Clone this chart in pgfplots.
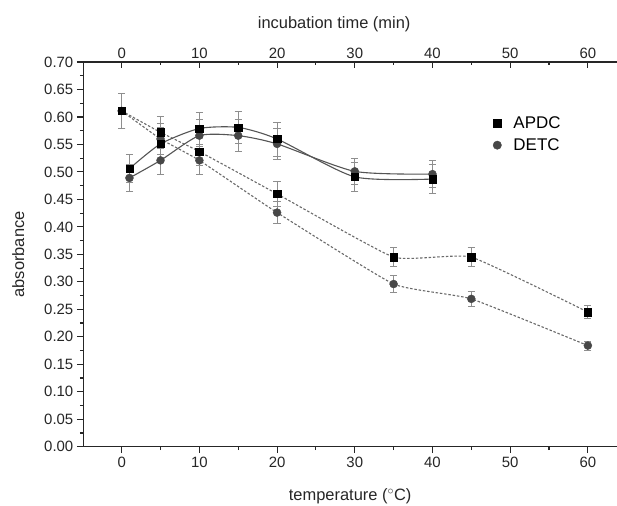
\documentclass[border=0pt]{standalone}
\usepackage{fontspec}
\setmainfont{Liberation Sans}
\usepackage{pgfplots}
\usepackage{pgfplotstable}
\pgfplotsset{compat=1.18}

\definecolor{circgray}{HTML}{474747}
\definecolor{errgray}{HTML}{8E8E8E}
\definecolor{solidgray}{HTML}{555555}
\definecolor{dashgray}{HTML}{6A6A6A}

% temperature series (dashed)
\pgfplotstableread{
x y e
0 0.611 0.031
5 0.572 0.029
10 0.537 0.025
20 0.460 0.023
35 0.345 0.017
45 0.345 0.017
60 0.245 0.012
}\apdctemp
\pgfplotstableread{
x y e
0 0.611 0.031
5 0.560 0.028
10 0.521 0.026
20 0.426 0.020
35 0.296 0.015
45 0.269 0.013
60 0.184 0.008
}\detctemp
% incubation time series (solid)
\pgfplotstableread{
x y e
1 0.506 0.025
5 0.551 0.030
10 0.579 0.029
15 0.581 0.029
20 0.560 0.031
30 0.491 0.027
40 0.487 0.027
}\apdctime
\pgfplotstableread{
x y e
1 0.489 0.025
5 0.521 0.026
10 0.566 0.029
15 0.566 0.029
20 0.551 0.029
30 0.501 0.023
40 0.496 0.025
}\detctime

\pgfplotsset{
  common/.style={
    at={(83.3bp,59.3bp)}, anchor=south west,
    width=533.7bp, height=384.7bp, scale only axis,
    xmin=-4.94, xmax=63.75, ymin=0, ymax=0.70,
    xtick={0,10,...,60}, minor x tick num=1,
    axis line style={line width=1.3bp, black!85},
    every tick/.style={line width=1.1bp, black!85},
    major tick length=6.5bp, minor tick length=3.5bp,
    /pgf/number format/assume math mode=true,
    tick label style={font=\fontsize{15}{17}\selectfont, black!85},
  },
  errs/.style={
    error bars/.cd, y dir=both, y explicit,
    error bar style={line width=0.8bp, errgray},
    error mark options={rotate=90, mark size=3.6bp, line width=0.8bp, errgray},
  },
}

\begin{document}
\begin{tikzpicture}
\useasboundingbox (0,0) rectangle (617bp,506bp);
\begin{axis}[common,
  axis x line*=top, axis y line=none,
  tick align=inside,
  xlabel={incubation time (min)},
  every axis x label/.style={at={(axis description cs:0.5,1)}, anchor=center,
    yshift=38bp, xshift=-16bp, font=\fontsize{16.5}{18}\selectfont, black!85},
]
\end{axis}
\begin{axis}[common,
  axis x line*=box, axis y line*=left,
  xtick pos=bottom, tick align=outside,
  ytick={0,0.05,0.1,0.15,0.2,0.25,0.3,0.35,0.4,0.45,0.5,0.55,0.6,0.65,0.7},
  minor y tick num=1,
  yticklabel style={/pgf/number format/.cd, fixed, fixed zerofill, precision=2},
  xlabel={temperature ($^{\circ}$C)},
  ylabel={absorbance},
  every axis x label/.style={at={(axis description cs:0.5,0)}, anchor=center,
    yshift=-49.5bp, font=\fontsize{16.5}{18}\selectfont, black!85},
  every axis y label/.style={at={(axis description cs:0,0.5)}, anchor=center,
    rotate=90, yshift=65bp, font=\fontsize{16.5}{18}\selectfont, black!85},
  legend style={draw=none, fill=none, font=\fontsize{17}{19}\selectfont,
    at={(axis description cs:0.760,0.870)}, anchor=north west,
    row sep=5bp},
  legend cell align=left,
  legend image code/.code={\draw[#1] plot coordinates {(5bp,0bp)}; \path (0bp,0bp) (19bp,0bp);},
]
\addlegendimage{only marks, mark=square*, mark size=4bp, black}
\addlegendentry{APDC}
\addlegendimage{only marks, mark=*, mark size=4.2bp, circgray}
\addlegendentry{DETC}

% lines
\addplot[forget plot, dashgray, line width=1.1bp, dash pattern=on 2.5bp off 1.8bp, smooth, tension=0.25] table[x=x, y=y] {\apdctemp};
\addplot[forget plot, dashgray, line width=1.1bp, dash pattern=on 2.5bp off 1.8bp, smooth, tension=0.25] table[x=x, y=y] {\detctemp};
\addplot[forget plot, solidgray, line width=1.1bp, smooth, tension=0.4] table[x=x, y=y] {\apdctime};
\addplot[forget plot, solidgray, line width=1.1bp, smooth, tension=0.4] table[x=x, y=y] {\detctime};

% error bars and marks: DETC below, APDC on top
\addplot[forget plot, only marks, mark=*, mark size=4bp, circgray, errs] table[x=x, y=y, y error=e] {\detctemp};
\addplot[forget plot, only marks, mark=*, mark size=4bp, circgray, errs] table[x=x, y=y, y error=e] {\detctime};
\addplot[forget plot, only marks, mark=square*, mark size=3.7bp, black, errs] table[x=x, y=y, y error=e] {\apdctemp};
\addplot[forget plot, only marks, mark=square*, mark size=3.7bp, black, errs] table[x=x, y=y, y error=e] {\apdctime};
\end{axis}
\end{tikzpicture}
\end{document}
